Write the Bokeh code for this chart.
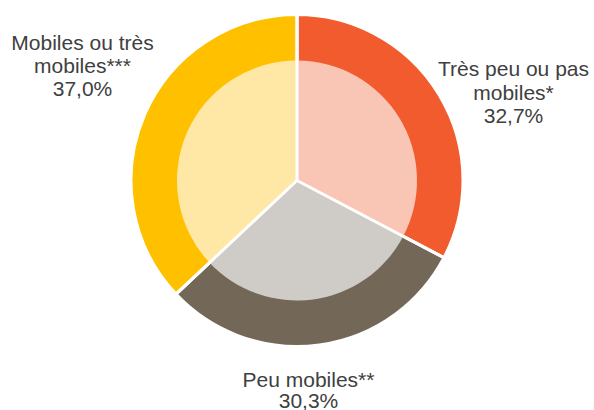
import numpy as np
from bokeh.plotting import figure
from bokeh.models import Range1d, ColumnDataSource
from bokeh.core.properties import value
from bokeh.embed import file_html
from bokeh.resources import INLINE

categories = ["Très peu ou pas mobiles*", "Peu mobiles**", "Mobiles ou très mobiles***"]
shares = [32.7, 30.3, 37.0]
label_lines = [["Très peu ou pas", "mobiles*", "32,7%"],
               ["Peu mobiles**", "30,3%"],
               ["Mobiles ou très", "mobiles***", "37,0%"]]
outer_colors = ["#F15B2D", "#736858", "#FFC000"]
inner_colors = ["#F9C5B4", "#CFCBC6", "#FFE7A6"]

W, H = 594, 410
p = figure(width=W, height=H, output_backend="svg", toolbar_location=None,
           x_range=Range1d(0, W), y_range=Range1d(-H, 0),
           min_border=0)
p.axis.visible = False
p.grid.visible = False
p.outline_line_color = None
p.background_fill_color = "white"

cx, cy = 296.5, -180
r_out, r_in = 166, 120

frac = np.array(shares) / sum(shares)
cum = np.concatenate([[0], np.cumsum(frac)])
starts = np.pi / 2 - 2 * np.pi * cum[:-1]
ends = np.pi / 2 - 2 * np.pi * cum[1:]

src = ColumnDataSource(dict(start=starts, end=ends, oc=outer_colors, ic=inner_colors,
                            x=[cx] * 3, y=[cy] * 3))
p.wedge(x="x", y="y", radius=r_out, start_angle="start", end_angle="end",
        direction="clock", fill_color="oc", line_color="white", line_width=3, source=src)
p.wedge(x="x", y="y", radius=r_in, start_angle="start", end_angle="end",
        direction="clock", fill_color="ic", line_color=None, source=src)
bx = cx + (r_out + 3) * np.cos(starts)
by = cy + (r_out + 3) * np.sin(starts)
p.segment(x0=[cx] * 3, y0=[cy] * 3, x1=bx, y1=by, line_color="white", line_width=3)

# label positions (center x, first line middle y, line spacing)
label_pos = [(513, -68, 23.5), (308, -379, 20.5), (82, -41.5, 23.2)]
tx, ty, tt = [], [], []
for (lx, ly, sp), lines in zip(label_pos, label_lines):
    for i, t in enumerate(lines):
        tx.append(lx)
        ty.append(ly - i * sp)
        tt.append(t)
p.text(x=tx, y=ty, text=tt, text_align="center", text_baseline="middle",
       text_font=value("Liberation Sans"), text_font_size="21px", text_color="#404040")

open("out.html", "w").write(file_html(p, INLINE))
